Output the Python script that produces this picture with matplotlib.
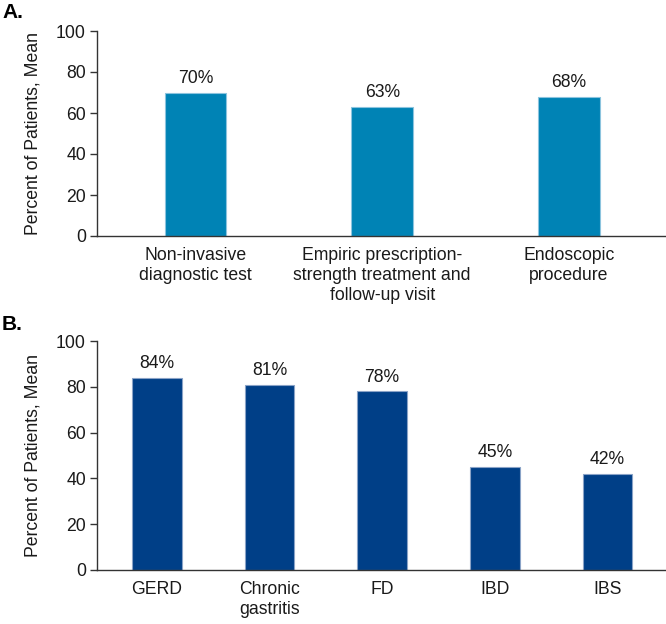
import matplotlib
matplotlib.use("Agg")
import matplotlib.pyplot as plt

plt.rcParams['font.family'] = ['Liberation Sans', 'DejaVu Sans']

cats_a = ["Non-invasive\ndiagnostic test",
          "Empiric prescription-\nstrength treatment and\nfollow-up visit",
          "Endoscopic\nprocedure"]
vals_a = [70, 63, 68]
cats_b = ["GERD", "Chronic\ngastritis", "FD", "IBD", "IBS"]
vals_b = [84, 81, 78, 45, 42]
yticks = [0, 20, 40, 60, 80, 100]
ylabel = "Percent of Patients, Mean"

FS = 12.7

fig = plt.figure(figsize=(6.66, 6.24), dpi=100)
axA = fig.add_axes([97/666, 1-236/624, 1-97/666 - 0.001, (236-31)/624])
axB = fig.add_axes([97/666, 1-570/624, 1-97/666 - 0.001, (570-341)/624])

def style(ax, cats, vals, color, edge, width, xlim):
    x = list(range(len(cats)))
    bars = ax.bar(x, vals, width=width, color=color, edgecolor=edge, linewidth=0.8, zorder=2)
    for b, v in zip(bars, vals):
        ax.annotate(f"{v}%", (b.get_x() + b.get_width()/2, v), xytext=(0, 4),
                    textcoords="offset points", ha="center", va="bottom",
                    fontsize=FS, color="#1a1a1a")
    ax.set_xlim(*xlim)
    ax.set_ylim(0, 100)
    ax.set_yticks(yticks)
    ax.set_xticks(x)
    ax.set_xticklabels(cats, fontsize=FS, color="#1a1a1a", linespacing=1.22)
    ax.tick_params(axis="x", length=0, pad=8)
    ax.tick_params(axis="y", length=5, width=1.0, pad=3, labelsize=FS,
                   colors="#333333", labelcolor="#1a1a1a", direction="out")
    for s in ("top", "right"):
        ax.spines[s].set_visible(False)
    for s in ("left", "bottom"):
        ax.spines[s].set_color("#333333")
        ax.spines[s].set_linewidth(1.0)
    ax.set_ylabel(ylabel, fontsize=FS, color="#1a1a1a")
    ax.yaxis.set_label_coords(-0.097, 0.5)

style(axA, cats_a, vals_a, "#0083B5", "#8cc4de", 0.33, (-0.527, 2.516))
style(axB, cats_b, vals_b, "#003F87", "#8aa3c7", 0.44, (-0.532, 4.514))

fig.text(2/666, 1-3/624, "A.", fontsize=15, fontweight="bold", va="top", ha="left")
fig.text(2/666, 1-315/624, "B.", fontsize=15, fontweight="bold", va="top", ha="left")

fig.savefig("out.png", dpi=100)
